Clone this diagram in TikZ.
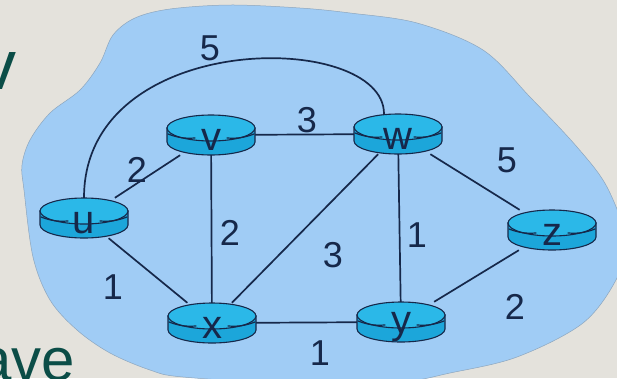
\documentclass[tikz,border=0pt]{standalone}
\usepackage{fontspec}
\setmainfont{Liberation Sans}
\usetikzlibrary{backgrounds}
\definecolor{netBg}{HTML}{E4E2DC}
\definecolor{netCloud}{HTML}{A0CCF5}
\definecolor{netCloudEdge}{HTML}{8DA6BE}
\definecolor{netCyan}{HTML}{1CA6DA}
\definecolor{netCyanTop}{HTML}{2BB8E8}
\definecolor{netInk}{HTML}{16284A}
\definecolor{slideTeal}{HTML}{0B4D47}
\tikzset{
  netcloud/.style={fill=netCloud, draw=netCloudEdge, line width=0.5pt},
  link/.style={draw=netInk, line width=1.7pt},
  wlabel/.style={font=\fontsize{36}{36}\selectfont, text=netInk, inner sep=0pt},
  router/.style={rectangle, minimum width=88pt, minimum height=40pt, inner sep=0pt},
  rbody/.style={fill=netCyan, draw=netInk, line width=1.1pt},
  rtop/.style={fill=netCyanTop, draw=netInk, line width=1.1pt},
  rname/.style={text=netInk, font=\fontsize{40}{40}\selectfont, inner sep=0pt},
  rmark/.style={draw=netInk, line width=1.2pt, line cap=round},
  slidetxt/.style={font=\fontsize{60}{60}\selectfont, text=slideTeal, inner sep=0pt}
}
\begin{document}
\begin{tikzpicture}[x=1pt,y=-1pt]
  \useasboundingbox (0,0) rectangle (617,378);
  \begin{scope}[on background layer]
    \fill[netBg] (0,0) rectangle (617,378);
    \draw[netcloud] plot[smooth cycle, tension=0.55] coordinates {(24,190) (22,165) (30,140) (50,113) (80,90) (100,63) (113,35) (135,18) (170,9) (230,5) (300,8) (350,13) (417,23) (483,50) (530,97) (577,147) (607,187) (626,240) (617,278) (583,323) (517,357) (450,373) (400,382) (300,384) (183,377) (150,370) (110,353) (77,330) (50,300) (33,257)};
  \end{scope}
  % routers
  \node[router] (u) at (84,218) {};
  \node[router] (v) at (211,135) {};
  \node[router] (w) at (398,134) {};
  \node[router] (z) at (552,230) {};
  \node[router] (x) at (212,323) {};
  \node[router] (y) at (401,322) {};
  \foreach \n in {u,v,w,x,y,z}{
    \begin{scope}[shift={(\n.center)}]
      \path[rbody] (-44,-7) -- (-44,7) arc[start angle=180, end angle=0, x radius=44, y radius=13] -- (44,-7) -- cycle;
      \path[rtop] (0,-7) ellipse[x radius=44, y radius=13];
      \draw[rmark] (-43,-1) to[bend right=12] (-16,3);
      \draw[rmark] (16,3) to[bend right=12] (43,-1);
    \end{scope}
    \node[rname] (\n-name) at ([yshift=-5pt]\n.center) {\n};
  }
  % links
  \begin{scope}[on background layer]
    \draw[link] (u) -- (v);
    \draw[link] (u) -- (x);
    \draw[link] (v) -- (w);
    \draw[link] (v) -- (x);
    \draw[link] (x) -- (w);
    \draw[link] (x) -- (y);
    \draw[link] (w) -- (y);
    \draw[link] (w) -- (z);
    \draw[link] (y) -- (z);
    \draw[link] (u.north) .. controls (84,28) and (384,30) .. ([xshift=-14pt]w.north);
  \end{scope}
  % weights
  \node[wlabel] (l-uv) at (137,170) {2};
  \node[wlabel] (l-uw) at (210,48) {5};
  \node[wlabel] (l-vw) at (307,120) {3};
  \node[wlabel] (l-vx) at (230,233) {2};
  \node[wlabel] (l-ux) at (113,287) {1};
  \node[wlabel] (l-xw) at (333,255) {3};
  \node[wlabel] (l-xy) at (320,353) {1};
  \node[wlabel] (l-wy) at (417,235) {1};
  \node[wlabel] (l-wz) at (507,160) {5};
  \node[wlabel] (l-yz) at (515,307) {2};
  % slide text cut by the frame
  \node[slidetxt, font=\fontsize{70}{70}\selectfont, anchor=base east] (t-top) at (17,89) {v};
  \node[slidetxt, anchor=base east] (t-bot) at (75,380) {ave};
\end{tikzpicture}
\end{document}
